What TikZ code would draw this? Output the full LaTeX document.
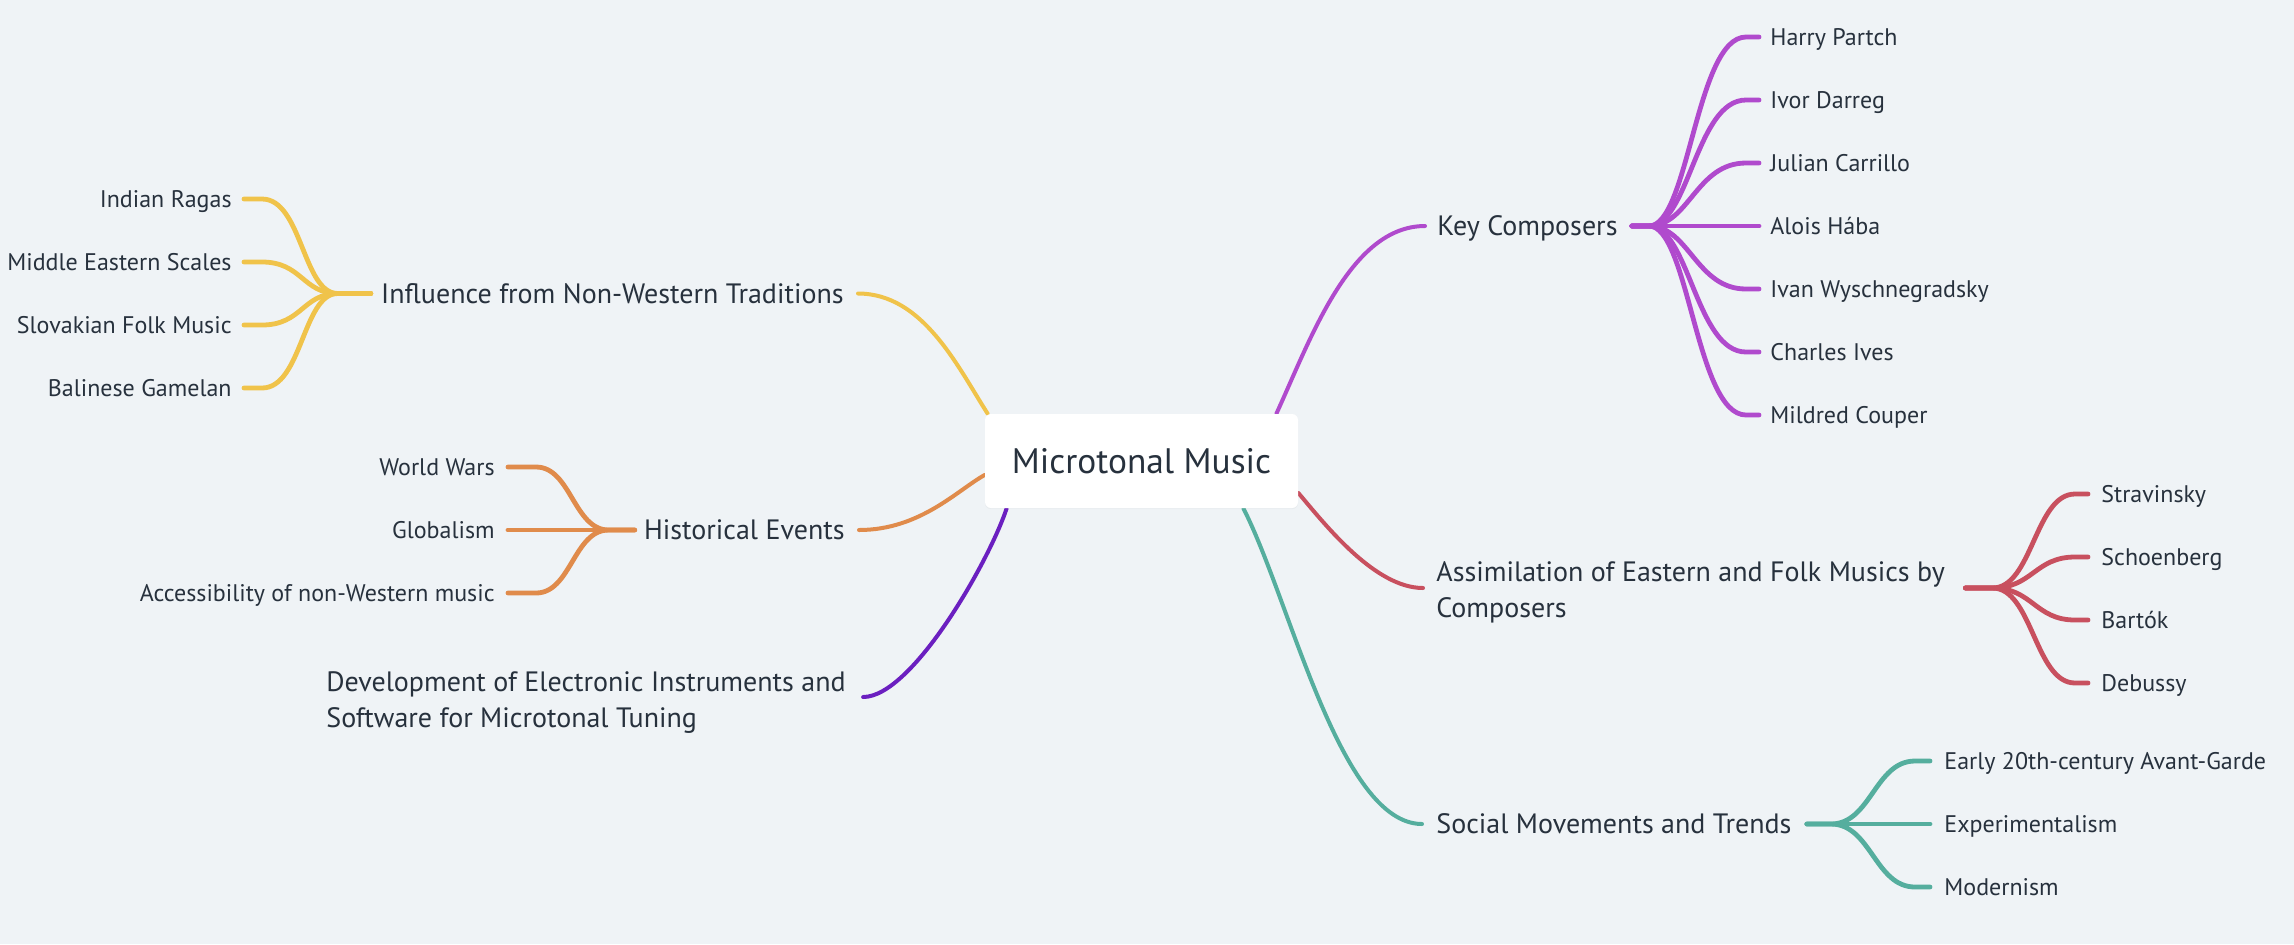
\documentclass[tikz,border=0pt]{standalone}
\usepackage{fontspec}
\setmainfont{PT Sans}
\usetikzlibrary{calc,shadows}
\definecolor{bgc}{HTML}{EFF3F6}
\definecolor{txtc}{HTML}{27313D}
\definecolor{cyel}{HTML}{F0C34A}
\definecolor{cora}{HTML}{E08B4B}
\definecolor{cmag}{HTML}{B04ACD}
\definecolor{cdpu}{HTML}{6B1FC0}
\definecolor{cred}{HTML}{C8505F}
\definecolor{ctea}{HTML}{55AE9E}
\pgfdeclarelayer{bglayer}
\pgfdeclarelayer{lines}
\pgfsetlayers{bglayer,lines,main}
\begin{document}
\begin{tikzpicture}[x=0.5pt,y=-0.5pt,
  leaf/.style={inner sep=0pt, text=txtc, font=\fontsize{12}{14}\selectfont, text height=8.2pt, text depth=0pt},
  topic/.style={inner sep=0pt, text=txtc, font=\fontsize{14}{18}\selectfont, text height=9.6pt, text depth=0pt},
  topictwo/.style={inner sep=0pt, text=txtc, font=\fontsize{14}{18}\selectfont},
  conn/.style={line width=2pt, line cap=round},
  twig/.style={line width=2.4pt, line cap=round}]
\useasboundingbox (0,0) rectangle (2294,944);
\begin{pgfonlayer}{bglayer}
\fill[bgc] (0,0) rectangle (2294,944);
\end{pgfonlayer}

% root
\node[fill=white, rounded corners=3pt, minimum width=156.5pt, minimum height=47pt, inner sep=0pt,
  text=txtc, font=\fontsize{17.7}{20}\selectfont,
  drop shadow={shadow xshift=0pt, shadow yshift=-0.6pt, opacity=0.06}] (root) at (1141.5,461) {Microtonal Music};

% topics
\node[topic, anchor=west] (kc) at (1437,226) {Key Composers};
\node[topic, anchor=east] (inf) at (844,293.5) {Influence from Non-Western Traditions};
\node[topic, anchor=east] (hist) at (845,530) {Historical Events};
\node[topic, anchor=west] (soc) at (1436,824) {Social Movements and Trends};
\node[topictwo, anchor=west] (as) at (1436,592) {\begin{tabular}{@{}l@{}}Assimilation of Eastern and Folk Musics by\\Composers\end{tabular}};
\node[topictwo, anchor=west] (dev) at (326,702) {\begin{tabular}{@{}l@{}}Development of Electronic Instruments and\\Software for Microtonal Tuning\end{tabular}};

% key composers children
\node[leaf, anchor=west] (hp) at (1770,37) {Harry Partch};
\node[leaf, anchor=west] (ivd) at (1770,100) {Ivor Darreg};
\node[leaf, anchor=west] (jc) at (1770,163) {Julian Carrillo};
\node[leaf, anchor=west] (ah) at (1770,226) {Alois Hába};
\node[leaf, anchor=west] (iw) at (1770,289) {Ivan Wyschnegradsky};
\node[leaf, anchor=west] (ci) at (1770,352) {Charles Ives};
\node[leaf, anchor=west] (mc) at (1770,415) {Mildred Couper};

% influence children
\node[leaf, anchor=east] (ir) at (232,199) {Indian Ragas};
\node[leaf, anchor=east] (me) at (232,262) {Middle Eastern Scales};
\node[leaf, anchor=east] (sf) at (232,325) {Slovakian Folk Music};
\node[leaf, anchor=east] (bg) at (232,388) {Balinese Gamelan\ };

% historical children
\node[leaf, anchor=east] (ww) at (495,467) {World Wars};
\node[leaf, anchor=east] (gl) at (495,530) {Globalism};
\node[leaf, anchor=east] (ac) at (495,593) {Accessibility of non-Western music};

% assimilation children
\node[leaf, anchor=west] (st) at (2101,494) {Stravinsky};
\node[leaf, anchor=west] (sc) at (2101,557) {Schoenberg};
\node[leaf, anchor=west] (ba) at (2101,620) {Bartók};
\node[leaf, anchor=west] (de) at (2101,683) {Debussy};

% social children
\node[leaf, anchor=west] (ea) at (1944,761) {Early 20th-century Avant-Garde};
\node[leaf, anchor=west] (ex) at (1944,824) {Experimentalism};
\node[leaf, anchor=west] (mo) at (1944,887) {Modernism};

\begin{pgfonlayer}{lines}
% main connectors
\draw[conn,cmag] ([xshift=-11pt]root.north east) .. controls +(34,-74) and +(-75,0) .. ([xshift=-6pt]kc.west);
\draw[conn,cyel] ([xshift=1.5pt]root.north west) .. controls +(-30,-47) and +(65,0) .. ([xshift=7pt]inf.east);
\draw[conn,cora] ([yshift=-7pt]root.west) .. controls +(-27,15) and +(61,0) .. ([xshift=7pt]hist.east);
\draw[conn,cdpu] ([xshift=11pt]root.south west) .. controls +(-17,52) and +(49,0) .. ([xshift=8.5pt,yshift=2.5pt]dev.east);
\draw[conn,cred] ([yshift=-16pt]root.east) .. controls +(27,32) and +(-48,0) .. ([xshift=-6.5pt,yshift=2pt]as.west);
\draw[conn,ctea] ([xshift=-27.5pt]root.south east) .. controls +(47,92) and +(-82,0) .. ([xshift=-7pt]soc.west);

% fans
\foreach \c in {hp,ivd,jc,ah,iw,ci,mc}
  \draw[twig,cmag] (kc.east) ++(14,0) -- ++(17,0) .. controls +(40,0) and +(-50,0) .. ([xshift=-12pt]\c.west) -- ([xshift=-5.5pt]\c.west);
\foreach \c in {ir,me,sf,bg}
  \draw[twig,cyel] (inf.west) ++(-10,0) -- ++(-33,0) .. controls +(-35,0) and +(40,0) .. ([xshift=15pt]\c.east) -- ([xshift=6pt]\c.east);
\foreach \c in {ww,gl,ac}
  \draw[twig,cora] (hist.west) ++(-9,0) -- ++(-26,0) .. controls +(-35,0) and +(35,0) .. ([xshift=20.5pt]\c.east) -- ([xshift=6.5pt]\c.east);
\foreach \c in {st,sc,ba,de}
  \draw[twig,cred] ([yshift=2pt]as.east) ++(20,0) -- ++(27,0) .. controls +(40,0) and +(-40,0) .. ([xshift=-13pt]\c.west) -- ([xshift=-6.5pt]\c.west);
\foreach \c in {ea,ex,mo}
  \draw[twig,ctea] (soc.east) ++(15,0) -- ++(24,0) .. controls +(40,0) and +(-40,0) .. ([xshift=-14.5pt]\c.west) -- ([xshift=-7pt]\c.west);
\end{pgfonlayer}
\end{tikzpicture}
\end{document}
